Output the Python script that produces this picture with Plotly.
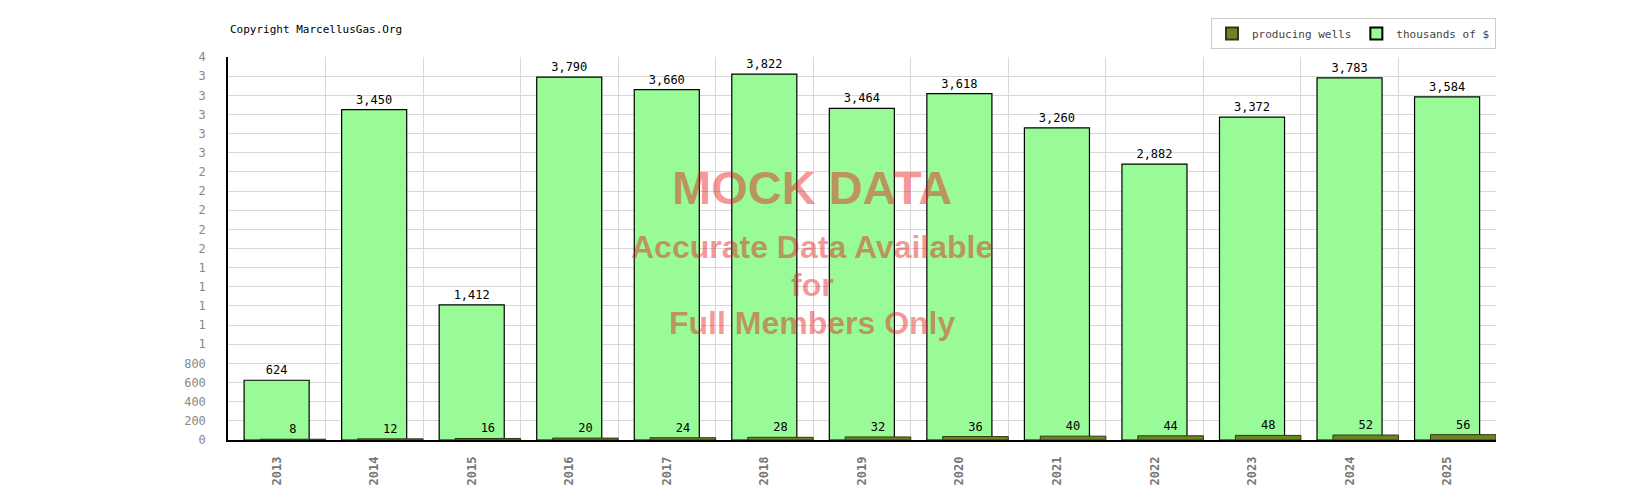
import plotly.graph_objects as go

# Values
years = ['2013', '2014', '2015', '2016', '2017', '2018', '2019',
         '2020', '2021', '2022', '2023', '2024', '2025']
thousands_of_dollars = [624, 3450, 1412, 3790, 3660, 3822, 3464,
                        3618, 3260, 2882, 3372, 3783, 3584]
producing_wells = [8, 12, 16, 20, 24, 28, 32, 36, 40, 44, 48, 52, 56]

# y tick labels as printed on the original (thousands truncated)
y_tick_vals = list(range(0, 4001, 200))
y_tick_text = ['0', '200', '400', '600', '800',
               '1', '1', '1', '1', '1',
               '2', '2', '2', '2', '2',
               '3', '3', '3', '3', '3', '4']

mono = "DejaVu Sans Mono"
wm_color = "rgba(230,20,20,0.45)"

fig = go.Figure()

fig.add_trace(go.Bar(
    x=years, y=thousands_of_dollars, name="thousands of $",
    marker=dict(color="#98fb98", line=dict(color="black", width=1.2)),
    offset=-0.335, width=0.667,
    texttemplate="%{y:,}", textposition="outside",
    textfont=dict(family=mono, size=12, color="black"),
    cliponaxis=False,
))

fig.add_trace(go.Bar(
    x=years, y=producing_wells, name="producing wells",
    marker=dict(color="#6b8424", line=dict(color="#2f3a10", width=1)),
    offset=-0.172, width=0.672,
    texttemplate="%{y}", textposition="outside",
    textfont=dict(family=mono, size=12, color="black"),
    cliponaxis=False,
))

# watermark
wm_lines = [
    ("MOCK DATA", 47, 0.659),
    ("Accurate Data Available", 32, 0.503),
    ("for", 32, 0.405),
    ("Full Members Only", 32, 0.305),
]
for txt, size, ypos in wm_lines:
    fig.add_annotation(
        text=txt, x=0.4606, y=ypos, xref="paper", yref="paper",
        xanchor="center", yanchor="middle", showarrow=False,
        font=dict(family="Liberation Sans, Arial", size=size, color=wm_color, weight="bold"),
    )

fig.add_annotation(
    text="Copyright MarcellusGas.Org", x=0, y=1.073, xref="paper", yref="paper",
    xanchor="left", yanchor="middle", showarrow=False,
    font=dict(family=mono, size=11, color="black"),
)

fig.update_layout(
    width=1625, height=500,
    margin=dict(l=228, r=129, t=57, b=60),
    plot_bgcolor="white", paper_bgcolor="white",
    barmode="overlay",
    showlegend=True,
    legend=dict(
        orientation="h", x=1, xanchor="right", y=1.102, yanchor="top",
        traceorder="reversed",
        bordercolor="#cccccc", borderwidth=1,
        font=dict(family=mono, size=11, color="#444444"),
        itemwidth=30, itemsizing="constant",
        entrywidth=0,
    ),
    xaxis=dict(
        type="category", range=[-0.5, 12.5],
        tickson="boundaries", ticks="",
        showgrid=True, gridcolor="#d8d8d8", gridwidth=1,
        showline=True, linecolor="black", linewidth=1.5,
        tickangle=-90, ticklabelstandoff=10,
        tickfont=dict(family=mono, size=12, color="#777777", weight="bold"),
    ),
    yaxis=dict(
        range=[0, 4000], tickvals=y_tick_vals, ticktext=y_tick_text,
        showgrid=True, gridcolor="#d8d8d8", gridwidth=1,
        showline=True, linecolor="black", linewidth=1.5,
        zeroline=False, ticks="", ticklabelstandoff=18,
        tickfont=dict(family=mono, size=12, color="#888888"),
    ),
)

# drop the browser's default 8px body margin so the chart sits at 0,0
fig.write_html("out.html", config={"displayModeBar": False},
               post_script="document.body.style.margin='0';")
